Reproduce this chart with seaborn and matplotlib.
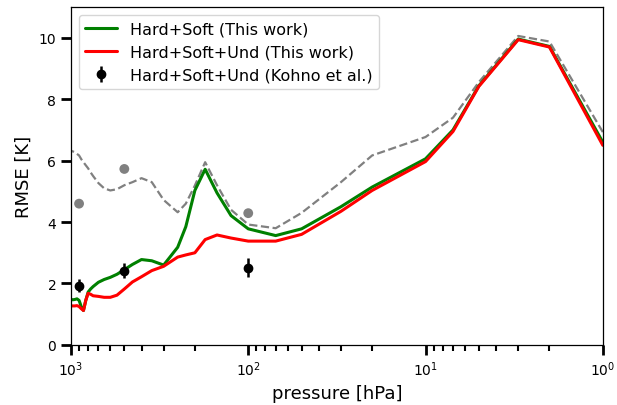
import numpy as np
import pandas as pd
import matplotlib.pyplot as plt
import seaborn as sns

# ── Data ──────────────────────────────────────────────────────────────────────

PRESSURE = [1000, 975, 950, 925, 900, 875, 850, 825, 800, 775, 750, 700, 650,
            600, 550, 500, 450, 400, 350, 300, 250, 225, 200, 175, 150, 125,
            100, 70, 50, 30, 20, 10, 7, 5, 3, 2, 1]

RMSE_HARD_SOFT = [1.48, 1.47, 1.48, 1.50, 1.45, 1.25, 1.12, 1.45, 1.72, 1.82,
                  1.90, 2.04, 2.13, 2.20, 2.30, 2.45, 2.62, 2.78, 2.74, 2.60,
                  3.18, 3.85, 5.03, 5.72, 4.95, 4.21, 3.78, 3.56, 3.78, 4.50,
                  5.14, 6.06, 7.00, 8.44, 9.96, 9.72, 6.60]

RMSE_HARD_SOFT_UND = [1.27, 1.27, 1.27, 1.28, 1.25, 1.18, 1.12, 1.45, 1.68,
                      1.65, 1.60, 1.58, 1.55, 1.55, 1.62, 1.82, 2.05, 2.22,
                      2.42, 2.56, 2.86, 2.93, 3.00, 3.43, 3.58, 3.48, 3.38,
                      3.38, 3.60, 4.35, 5.03, 5.97, 6.95, 8.42, 9.94, 9.70,
                      6.50]

RMSE_BASELINE = [6.32, 6.30, 6.27, 6.22, 6.17, 6.05, 5.95, 5.85, 5.75, 5.62,
                 5.50, 5.27, 5.10, 5.03, 5.07, 5.20, 5.30, 5.43, 5.30, 4.72,
                 4.32, 4.60, 5.19, 5.95, 5.20, 4.40, 3.92, 3.80, 4.30, 5.30,
                 6.17, 6.77, 7.40, 8.56, 10.06, 9.88, 6.93]

KOHNO_P = [900, 500, 100]
KOHNO_RMSE = [1.93, 2.42, 2.52]
KOHNO_ERR = [0.22, 0.25, 0.30]

KOHNO_BASE_P = [900, 500, 100]
KOHNO_BASE_RMSE = [4.60, 5.73, 4.29]

# ── Plot ──────────────────────────────────────────────────────────────────────

sns.set_style("ticks")
plt.rcParams["font.family"] = ["DejaVu Sans"]
plt.rcParams["text.color"] = "black"
plt.rcParams["axes.labelcolor"] = "black"

df = pd.DataFrame({
    "pressure": PRESSURE,
    "hard_soft": RMSE_HARD_SOFT,
    "hard_soft_und": RMSE_HARD_SOFT_UND,
    "baseline": RMSE_BASELINE,
})

fig = plt.figure(figsize=(6.17, 4.06), dpi=100)
ax = fig.add_axes([0.115, 0.148, 0.862, 0.832])
ax.set_xscale("log")

sns.lineplot(data=df, x="pressure", y="baseline", color="gray",
             linestyle="--", linewidth=1.6, ax=ax)
sns.lineplot(data=df, x="pressure", y="hard_soft", color="green",
             linewidth=2.2, label="Hard+Soft (This work)", ax=ax)
sns.lineplot(data=df, x="pressure", y="hard_soft_und", color="red",
             linewidth=2.2, label="Hard+Soft+Und (This work)", ax=ax)
sns.scatterplot(x=KOHNO_BASE_P, y=KOHNO_BASE_RMSE, color="gray", s=50,
                edgecolor="none", ax=ax)
ax.errorbar(KOHNO_P, KOHNO_RMSE, yerr=KOHNO_ERR, fmt="o", color="black",
            markersize=6, elinewidth=1.8, capsize=0,
            label="Hard+Soft+Und (Kohno et al.)")

ax.set_xlim(1000, 1)
ax.set_ylim(0, 11)
ax.set_yticks([0, 2, 4, 6, 8, 10])
ax.set_xlabel("pressure [hPa]", fontsize=13)
ax.set_ylabel("RMSE [K]", fontsize=13)

ax.tick_params(axis="both", which="major", length=7, width=2,
               labelsize=10, color="black", labelcolor="black")
ax.tick_params(axis="x", which="minor", length=4.5, width=1.5, color="black")
for side in ax.spines.values():
    side.set_color("black")
    side.set_linewidth(0.9)

ax.legend(loc="upper left", fontsize=11.5, frameon=True)

plt.savefig("out.png", dpi=100)
plt.close()
